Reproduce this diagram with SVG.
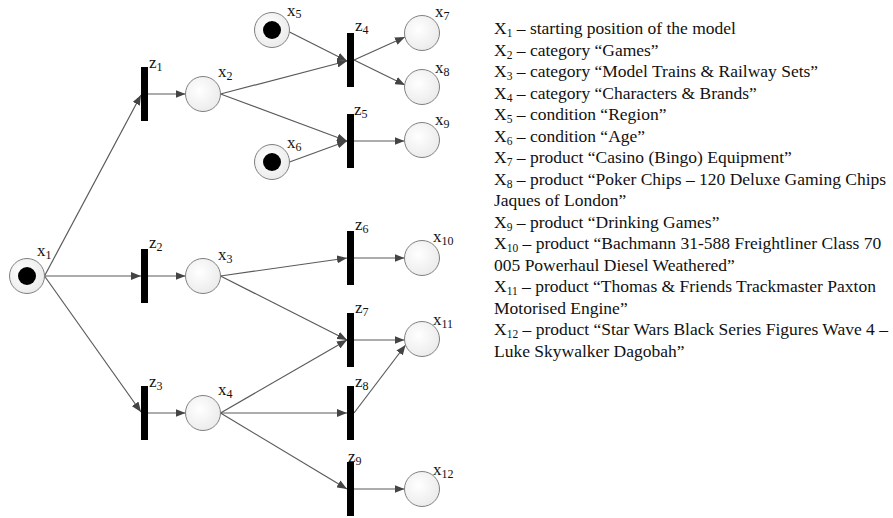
<svg xmlns="http://www.w3.org/2000/svg" width="893" height="518" viewBox="0 0 893 518">
<defs>
<radialGradient id="pg" cx="0.4" cy="0.4" r="0.7">
<stop offset="0" stop-color="#ffffff"/>
<stop offset="1" stop-color="#e9e9e9"/>
</radialGradient>
<marker id="ar" markerUnits="userSpaceOnUse" markerWidth="11" markerHeight="8" refX="10" refY="4" orient="auto">
<path d="M0,0 L10,4 L0,8 z" fill="#444"/>
</marker>
</defs>
<style>
.pl{fill:url(#pg);stroke:#808080;stroke-width:1}
.tk{fill:#000}
.tr{fill:#000}
.ed line{stroke:#5a5a5a;stroke-width:1.2;fill:none;marker-end:url(#ar)}
.lb{font-family:"Liberation Serif","Times New Roman",serif;font-size:17px;fill:#111}
.sb{font-size:12px}
.lg{font-family:"Liberation Serif","Times New Roman",serif;font-size:17.5px;fill:#111}
.ls{font-size:11.5px}
</style>
<rect width="893" height="518" fill="#fff"/>
<g id="connectors" class="ed">
<line x1="44.5" y1="276" x2="141" y2="95"/>
<line x1="44.5" y1="276" x2="141" y2="276"/>
<line x1="44.5" y1="276" x2="141" y2="412"/>
<line x1="148" y1="94" x2="185.5" y2="94"/>
<line x1="148" y1="276" x2="185.5" y2="276"/>
<line x1="148" y1="413" x2="185.5" y2="413"/>
<line x1="220.5" y1="94" x2="347" y2="61"/>
<line x1="220.5" y1="94" x2="347" y2="141"/>
<line x1="289.5" y1="32" x2="347" y2="61"/>
<line x1="289.5" y1="162" x2="347" y2="141"/>
<line x1="354" y1="60" x2="405" y2="37"/>
<line x1="354" y1="60" x2="405" y2="85"/>
<line x1="354" y1="141" x2="404.5" y2="141"/>
<line x1="220.5" y1="276" x2="347" y2="258"/>
<line x1="220.5" y1="276" x2="347" y2="340"/>
<line x1="354" y1="258" x2="404.5" y2="258"/>
<line x1="354" y1="340" x2="404.5" y2="340"/>
<line x1="220.5" y1="413" x2="347" y2="340"/>
<line x1="220.5" y1="413" x2="347" y2="413"/>
<line x1="220.5" y1="413" x2="347" y2="489"/>
<line x1="354" y1="413" x2="405.6" y2="345"/>
<line x1="354" y1="489" x2="404.5" y2="489"/>
</g>
<g id="x1"><circle class="pl" cx="27" cy="276" r="17.5"/><circle class="tk" cx="27" cy="276" r="9"/><text class="lb" x="37" y="256">x<tspan class="sb" dy="3">1</tspan></text></g>
<g id="x2"><circle class="pl" cx="203" cy="94" r="17.5"/><text class="lb" x="218" y="77">x<tspan class="sb" dy="3">2</tspan></text></g>
<g id="x3"><circle class="pl" cx="203" cy="276" r="17.5"/><text class="lb" x="218" y="260">x<tspan class="sb" dy="3">3</tspan></text></g>
<g id="x4"><circle class="pl" cx="203" cy="413" r="17.5"/><text class="lb" x="218" y="395">x<tspan class="sb" dy="3">4</tspan></text></g>
<g id="x5"><circle class="pl" cx="272" cy="30" r="17.5"/><circle class="tk" cx="272" cy="30" r="9"/><text class="lb" x="287" y="16">x<tspan class="sb" dy="2">5</tspan></text></g>
<g id="x6"><circle class="pl" cx="272" cy="162" r="17.5"/><circle class="tk" cx="272" cy="162" r="9"/><text class="lb" x="287" y="148">x<tspan class="sb" dy="3">6</tspan></text></g>
<g id="x7"><circle class="pl" cx="422" cy="33" r="17.5"/><text class="lb" x="435" y="17">x<tspan class="sb" dy="3">7</tspan></text></g>
<g id="x8"><circle class="pl" cx="422" cy="87" r="17.5"/><text class="lb" x="435" y="73">x<tspan class="sb" dy="3">8</tspan></text></g>
<g id="x9"><circle class="pl" cx="422" cy="140" r="17.5"/><text class="lb" x="435" y="125">x<tspan class="sb" dy="3">9</tspan></text></g>
<g id="x10"><circle class="pl" cx="422" cy="258" r="17.5"/><text class="lb" x="433" y="242">x<tspan class="sb" dy="3">10</tspan></text></g>
<g id="x11"><circle class="pl" cx="422" cy="339" r="17.5"/><text class="lb" x="433" y="325">x<tspan class="sb" dy="3">11</tspan></text></g>
<g id="x12"><circle class="pl" cx="422" cy="489" r="17.5"/><text class="lb" x="433" y="475">x<tspan class="sb" dy="3">12</tspan></text></g>
<g id="z1"><rect class="tr" x="141" y="67" width="7" height="54"/><text class="lb" x="149" y="68">z<tspan class="sb" dy="3">1</tspan></text></g>
<g id="z2"><rect class="tr" x="141" y="249" width="7" height="54"/><text class="lb" x="149" y="248">z<tspan class="sb" dy="3">2</tspan></text></g>
<g id="z3"><rect class="tr" x="141" y="386" width="7" height="54"/><text class="lb" x="149" y="387">z<tspan class="sb" dy="3">3</tspan></text></g>
<g id="z4"><rect class="tr" x="347" y="33" width="7" height="54"/><text class="lb" x="355" y="31">z<tspan class="sb" dy="3">4</tspan></text></g>
<g id="z5"><rect class="tr" x="347" y="114" width="7" height="54"/><text class="lb" x="354" y="115">z<tspan class="sb" dy="3">5</tspan></text></g>
<g id="z6"><rect class="tr" x="347" y="231" width="7" height="54"/><text class="lb" x="355" y="230">z<tspan class="sb" dy="3">6</tspan></text></g>
<g id="z7"><rect class="tr" x="347" y="313" width="7" height="54"/><text class="lb" x="355" y="313">z<tspan class="sb" dy="3">7</tspan></text></g>
<g id="z8"><rect class="tr" x="347" y="386" width="7" height="54"/><text class="lb" x="355" y="387">z<tspan class="sb" dy="3">8</tspan></text></g>
<g id="z9"><rect class="tr" x="347" y="462" width="7" height="54"/><text class="lb" x="348" y="462">z<tspan class="sb" dy="3">9</tspan></text></g>
<g id="legend" class="lg">
<text x="494" y="34">X<tspan class="ls" dy="3">1</tspan><tspan dy="-3"> – starting position of the model</tspan></text>
<text x="494" y="55.5">X<tspan class="ls" dy="3">2</tspan><tspan dy="-3"> – category “Games”</tspan></text>
<text x="494" y="77">X<tspan class="ls" dy="3">3</tspan><tspan dy="-3"> – category “Model Trains &amp; Railway Sets”</tspan></text>
<text x="494" y="98.5">X<tspan class="ls" dy="3">4</tspan><tspan dy="-3"> – category “Characters &amp; Brands”</tspan></text>
<text x="494" y="120">X<tspan class="ls" dy="3">5</tspan><tspan dy="-3"> – condition “Region”</tspan></text>
<text x="494" y="141.5">X<tspan class="ls" dy="3">6</tspan><tspan dy="-3"> – condition “Age”</tspan></text>
<text x="494" y="163">X<tspan class="ls" dy="3">7</tspan><tspan dy="-3"> – product “Casino (Bingo) Equipment”</tspan></text>
<text x="494" y="184.5">X<tspan class="ls" dy="3">8</tspan><tspan dy="-3"> – product “Poker Chips – 120 Deluxe Gaming Chips</tspan></text>
<text x="494" y="206">Jaques of London”</text>
<text x="494" y="227.5">X<tspan class="ls" dy="3">9</tspan><tspan dy="-3"> – product “Drinking Games”</tspan></text>
<text x="494" y="249">X<tspan class="ls" dy="3">10</tspan><tspan dy="-3"> – product “Bachmann 31-588 Freightliner Class 70</tspan></text>
<text x="494" y="270.5">005 Powerhaul Diesel Weathered”</text>
<text x="494" y="292">X<tspan class="ls" dy="3">11</tspan><tspan dy="-3"> – product “Thomas &amp; Friends Trackmaster Paxton</tspan></text>
<text x="494" y="313.5">Motorised Engine”</text>
<text x="494" y="335">X<tspan class="ls" dy="3">12</tspan><tspan dy="-3"> – product “Star Wars Black Series Figures Wave 4 –</tspan></text>
<text x="494" y="356.5">Luke Skywalker Dagobah”</text>
</g>
</svg>
